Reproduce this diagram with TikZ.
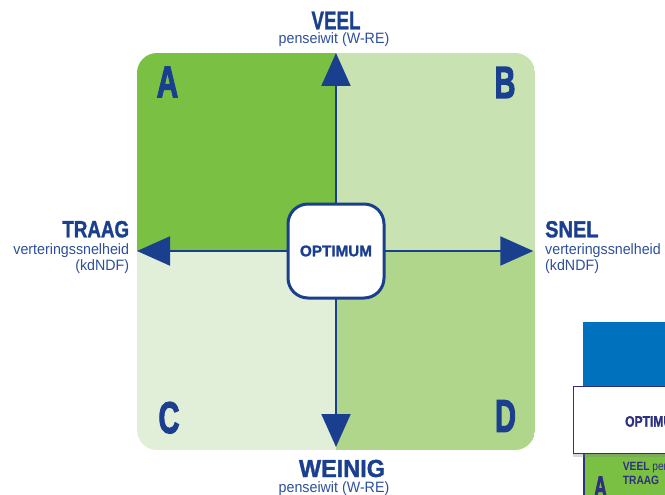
\documentclass[tikz,border=0pt]{standalone}
\usepackage{fontspec}
\setmainfont{Liberation Sans}
\newfontfamily\condf[FakeStretch=0.85]{Liberation Sans}
\newfontfamily\regf[FakeStretch=0.95]{Liberation Sans}
\newfontfamily\heavyf[FakeBold=1.5]{Liberation Sans Bold}
\newfontfamily\heavierf[FakeBold=3]{Liberation Sans Bold}
\usepackage{graphicx}
\usetikzlibrary{arrows.meta,shadows}
\definecolor{navy}{HTML}{1B3F8F}
\definecolor{subblue}{HTML}{2C4F9D}
\definecolor{qa}{HTML}{7AC143}
\definecolor{qb}{HTML}{C9E2B1}
\definecolor{qc}{HTML}{E2EFD8}
\definecolor{qd}{HTML}{AFD68B}
\definecolor{fblue}{HTML}{0071BC}
\definecolor{fnavy}{HTML}{2E2F7F}
\newcommand{\fitbox}[3]{\resizebox{#1pt}{#2pt}{\heavyf #3}}
\newcommand{\fitbig}[3]{\resizebox{#1pt}{#2pt}{\heavierf #3}}
\begin{document}
\begin{tikzpicture}[x=1pt,y=-1pt,
  head/.style={text=navy, inner sep=0pt, anchor=base},
  sub/.style={text=subblue, inner sep=0pt, font=\regf\fontsize{15}{15}\selectfont},
  axis/.style={draw=navy, line width=2pt, -{Triangle[length=33pt,width=29pt]}},
  optbox/.style={draw=navy, line width=3pt, fill=white, rounded corners=20pt,
    minimum width=96pt, minimum height=94pt, inner sep=0pt, text=navy},
  ftext/.style={text=fnavy, inner sep=0pt, align=left,
    font=\condf\fontsize{12}{14}\selectfont},
]
\useasboundingbox (0,0) rectangle (665,495);
% quadrants
\begin{scope}
\clip[rounded corners=20pt] (137,53) rectangle (535,450);
\fill[qa] (137,53) rectangle (336,251);
\fill[qb] (336,53) rectangle (535,251);
\fill[qc] (137,251) rectangle (336,450);
\fill[qd] (336,251) rectangle (535,450);
\end{scope}
% quadrant letters
\node[head] (la) at (167.5,97.3) {\fitbig{21.6}{30.6}{A}};
\node[head] (lb) at (505,98) {\fitbig{21}{31}{B}};
\node[head] (lc) at (169,433) {\fitbig{21}{31}{C}};
\node[head] (ld) at (505.5,431.7) {\fitbig{21}{31.5}{D}};
% axes
\coordinate (top) at (336,53);
\coordinate (bot) at (336,447);
\coordinate (lft) at (137,251);
\coordinate (rgt) at (533.3,251);
\draw[axis] (336,251) -- (top);
\draw[axis] (336,251) -- (bot);
\draw[axis] (336,251) -- (lft);
\draw[axis] (336,251) -- (rgt);
\node[optbox] (opt) at (336,251) {\fitbox{72}{10.7}{OPTIMUM}};
% axis labels
\node[head] (veel) at (336,29.3) {\fitbox{49}{17.6}{VEEL}};
\node[sub, anchor=base] (veelsub) at (334,44) {penseiwit (W-RE)};
\node[head, anchor=base east] (traag) at (129.3,237.3) {\fitbox{66.7}{16.4}{TRAAG}};
\node[sub, anchor=base east] (traag1) at (129.3,254.5) {verteringssnelheid};
\node[sub, anchor=base east] (traag2) at (129.3,270) {(kdNDF)};
\node[head, anchor=base west] (snel) at (545,237.3) {\fitbox{53.3}{16.2}{SNEL}};
\node[sub, anchor=base west] (snel1) at (545,254.5) {verteringssnelheid};
\node[sub, anchor=base west] (snel2) at (545,270) {(kdNDF)};
\node[head] (weinig) at (342,477) {\fitbox{86}{17.2}{WEINIG}};
\node[sub, anchor=base] (weinigsub) at (334,492) {penseiwit (W-RE)};
% fragment of next figure
\begin{scope}
\clip (0,0) rectangle (665,495);
\fill[fblue] (583.3,322.3) rectangle (680,400);
\draw[fnavy, line width=1.2pt, fill=qa] (584,453) rectangle (680,510);
\node[draw=fnavy, line width=1.2pt, fill=white, anchor=north west,
  minimum width=110pt, minimum height=67pt, inner sep=0pt,
  drop shadow={shadow xshift=0pt, shadow yshift=-3pt, opacity=0.3}] (opt2) at (572.7,386) {};
\node[text=fnavy, inner sep=0pt, anchor=base west] (opt2t) at (625,426.7) {\fitbox{57}{10.7}{OPTIMUM}};
\node[text=fnavy, inner sep=0pt, anchor=base] (fa) at (600.5,497) {\fitbig{13}{20.5}{A}};
\node[ftext, anchor=base west] (fveel) at (622.7,484) {\textbf{VEEL} penseiwit (W-RE)\\\textbf{TRAAG}};
\end{scope}
\end{tikzpicture}
\end{document}
